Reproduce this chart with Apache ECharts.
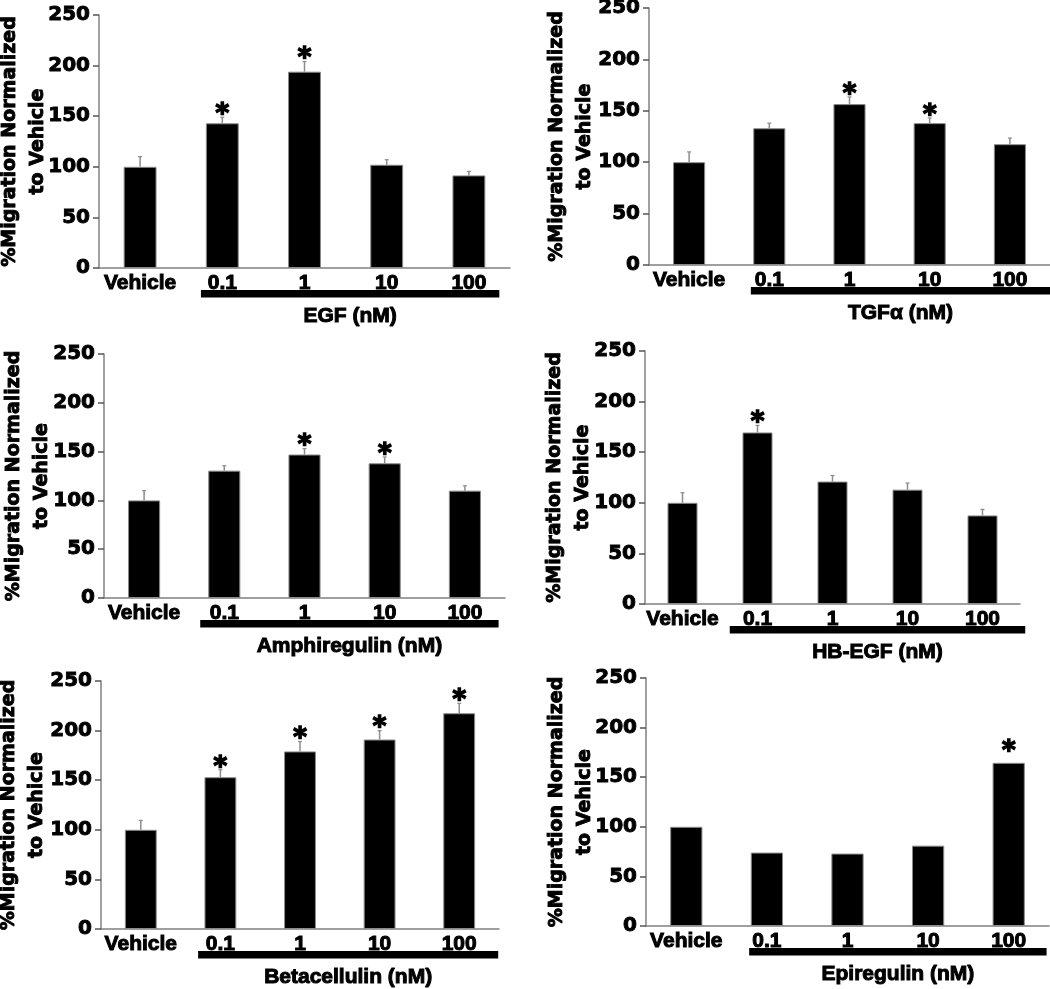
<!DOCTYPE html>
<html>
<head>
<meta charset="utf-8">
<script src="https://cdn.jsdelivr.net/npm/echarts@6/dist/echarts.min.js"></script>
<style>
html,body{margin:0;padding:0;background:#fff;}
#chart{width:1050px;height:989px;}
</style>
</head>
<body>
<div id="chart"></div>
<script>
// ---- data ----
const categories = ['Vehicle', '0.1', '1', '10', '100'];
const yTicks = [0, 50, 100, 150, 200, 250];
const yTitle = '%Migration Normalized\nto Vehicle';

const egfLabel = 'EGF (nM)';
const egfValues = [100, 143, 194, 102, 91.5];
const egfErrors = [10, 6, 10, 5, 4];
const egfSig = [0, 1, 1, 0, 0];

const tgfLabel = 'TGFα (nM)';
const tgfValues = [100, 133, 156.5, 138, 117.5];
const tgfErrors = [10, 5, 7, 5, 6];
const tgfSig = [0, 0, 1, 1, 0];

const ampLabel = 'Amphiregulin (nM)';
const ampValues = [100, 130.5, 147, 138, 110];
const ampErrors = [10, 5, 6, 6.5, 5];
const ampSig = [0, 0, 1, 1, 0];

const hbLabel = 'HB-EGF (nM)';
const hbValues = [100, 169.5, 121, 113, 87.5];
const hbErrors = [10, 7, 6, 6.5, 6];
const hbSig = [0, 1, 0, 0, 0];

const btcLabel = 'Betacellulin (nM)';
const btcValues = [100, 153, 179, 191, 217.5];
const btcErrors = [9.5, 7.5, 10, 9, 10];
const btcSig = [0, 1, 1, 1, 1];

const epiLabel = 'Epiregulin (nM)';
const epiValues = [100, 74, 73, 81, 164.5];
const epiErrors = [0, 0, 0, 0, 0];
const epiSig = [0, 0, 0, 0, 1];

const panels = [
  {label: egfLabel, values: egfValues, errors: egfErrors, sig: egfSig},
  {label: tgfLabel, values: tgfValues, errors: tgfErrors, sig: tgfSig},
  {label: ampLabel, values: ampValues, errors: ampErrors, sig: ampSig},
  {label: hbLabel, values: hbValues, errors: hbErrors, sig: hbSig},
  {label: btcLabel, values: btcValues, errors: btcErrors, sig: btcSig},
  {label: epiLabel, values: epiValues, errors: epiErrors, sig: epiSig}
];

// ---- layout / style ----
const layout = [
  {left: 99,  top: 15,  width: 411, height: 253, nameGap: 47, from: -0.26, to: 0.37, starGap: 1},
  {left: 649, top: 8,   width: 401, height: 257, nameGap: 50, from: -0.23, to: 0.5,  starGap: 1},
  {left: 104, top: 354, width: 401, height: 244, nameGap: 48, from: -0.30, to: 0.42, starGap: 1},
  {left: 645, top: 351, width: 375, height: 253, nameGap: 48, from: -0.37, to: 0.57, starGap: 1},
  {left: 101, top: 681, width: 398, height: 248, nameGap: 50, from: -0.28, to: 0.49, starGap: 1},
  {left: 646, top: 678, width: 403, height: 248, nameGap: 47, from: -0.22, to: 0.47, starGap: 10}
];

const AXIS_GREY = '#808080';
const grids = [], xAxes = [], yAxes = [], series = [];

panels.forEach((p, k) => {
  const L = layout[k];
  grids.push({left: L.left, top: L.top, width: L.width, height: L.height, containLabel: false, outerBoundsMode: 'none'});
  xAxes.push({
    type: 'category', gridIndex: k, data: categories,
    axisLine: {lineStyle: {color: AXIS_GREY, width: 1.5}},
    axisTick: {show: false},
    axisLabel: {interval: 0, margin: 5, color: '#000', fontFamily: 'Liberation Sans', fontWeight: 'bold', fontSize: 21,
      textBorderColor: '#000', textBorderWidth: 1}
  });
  yAxes.push({
    type: 'value', gridIndex: k, min: yTicks[0], max: yTicks[yTicks.length - 1], interval: yTicks[1] - yTicks[0],
    name: yTitle, nameLocation: 'middle', nameRotate: 90, nameGap: L.nameGap, nameMoveOverlap: false,
    nameTextStyle: {color: '#000', fontFamily: 'DejaVu Sans', fontWeight: 'bold', fontSize: 19, lineHeight: 28, align: 'center',
      textBorderColor: '#000', textBorderWidth: 0.9},
    axisLine: {show: true, lineStyle: {color: AXIS_GREY, width: 1.5}},
    axisTick: {show: true, length: 6, lineStyle: {color: '#555', width: 1.5}},
    splitLine: {show: false},
    axisLabel: {margin: 9, color: '#000', fontFamily: 'DejaVu Sans', fontWeight: 'bold', fontSize: 20,
      textBorderColor: '#000', textBorderWidth: 0.9}
  });
  series.push({
    type: 'bar', xAxisIndex: k, yAxisIndex: k, data: p.values, barWidth: '40%',
    itemStyle: {color: '#000', borderColor: '#8a8a8a', borderWidth: 1},
    silent: true, z: 2
  });
  series.push({
    type: 'custom', xAxisIndex: k, yAxisIndex: k, z: 3, silent: true,
    data: categories.map((c, i) => [i, p.values[i], p.errors[i], p.sig[i]]),
    encode: {x: 0, y: 1},
    renderItem: function (params, api) {
      const i = api.value(0), v = api.value(1), e = api.value(2), s = api.value(3);
      const base = api.coord([i, v]);
      const top = api.coord([i, v + e]);
      const children = [];
      if (e > 0) {
        children.push({type: 'line', shape: {x1: base[0], y1: base[1], x2: top[0], y2: top[1]},
          style: {stroke: '#8c8c8c', lineWidth: 1.5}});
        children.push({type: 'line', shape: {x1: top[0] - 2, y1: top[1], x2: top[0] + 2, y2: top[1]},
          style: {stroke: '#8c8c8c', lineWidth: 1.2}});
      }
      if (s) {
        children.push({type: 'text', x: top[0], y: top[1] - L.starGap + 12,
          style: {text: '*', fill: '#000', font: 'bold 26px "DejaVu Sans"', align: 'center', verticalAlign: 'bottom',
            stroke: '#000', lineWidth: 1.5}});
      }
      return {type: 'group', children: children};
    }
  });
  series.push({
    type: 'custom', xAxisIndex: k, yAxisIndex: k, z: 3, silent: true,
    data: [[1, 0, 4]],
    encode: {x: 0, y: 1},
    renderItem: function (params, api) {
      const a = api.coord([api.value(0), 0]);
      const b = api.coord([api.value(2), 0]);
      const band = api.size([1, 0])[0];
      const x0 = a[0] + L.from * band, x1 = b[0] + L.to * band;
      const y0 = a[1] + 22;
      return {type: 'group', children: [
        {type: 'rect', shape: {x: x0, y: y0, width: x1 - x0, height: 7.5}, style: {fill: '#000'}},
        {type: 'text', x: (x0 + x1) / 2, y: a[1] + 48,
          style: {text: p.label, fill: '#000', font: 'bold 21px "Liberation Sans"', align: 'center', verticalAlign: 'middle',
            stroke: '#000', lineWidth: 1}}
      ]};
    }
  });
});

const chart = echarts.init(document.getElementById('chart'), null, {renderer: 'canvas'});
chart.setOption({
  animation: false,
  backgroundColor: '#fff',
  grid: grids, xAxis: xAxes, yAxis: yAxes, series: series
});
</script>
</body>
</html>
